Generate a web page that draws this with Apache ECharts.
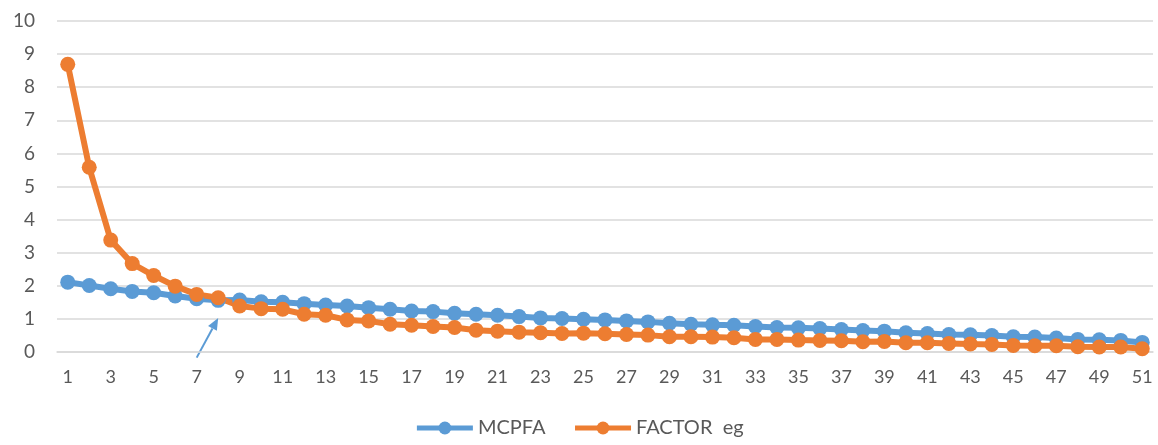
<!DOCTYPE html>
<html>
<head>
<meta charset="utf-8">
<script src="https://cdn.jsdelivr.net/npm/echarts@6/dist/echarts.min.js"></script>
<style>html,body{margin:0;padding:0;background:#fff;}#c{width:1158px;height:445px;}</style>
</head>
<body>
<div id="c"></div>
<script>
var categories = [];
for (var k = 1; k <= 51; k++) categories.push(String(k));
var seriesNames = ['MCPFA', 'FACTOR  eg'];
var mcpfa = [2.11,2.01,1.91,1.83,1.79,1.69,1.61,1.56,1.57,1.52,1.50,1.46,1.42,1.39,1.34,1.29,1.24,1.22,1.17,1.14,1.11,1.07,1.03,1.01,0.99,0.97,0.94,0.91,0.87,0.84,0.82,0.81,0.77,0.74,0.73,0.71,0.68,0.65,0.63,0.58,0.56,0.53,0.52,0.50,0.46,0.45,0.42,0.38,0.37,0.35,0.29];
var factorEg = [8.69,5.58,3.38,2.67,2.31,1.99,1.74,1.64,1.39,1.31,1.29,1.14,1.11,0.97,0.94,0.84,0.81,0.77,0.74,0.66,0.63,0.60,0.58,0.56,0.57,0.55,0.53,0.51,0.46,0.46,0.45,0.43,0.38,0.38,0.36,0.35,0.34,0.31,0.32,0.28,0.28,0.26,0.24,0.23,0.20,0.19,0.19,0.16,0.15,0.15,0.10];
var yTicks = {min: 0, max: 10, interval: 1};
// annotation arrow endpoints in data space: [category index, value]
var arrowFrom = [6, -0.17];
var arrowTo = [6.72, 1.03];

var font = 'Lato, "Open Sans", sans-serif';
var chart = echarts.init(document.getElementById('c'));
chart.setOption({
  animation: false,
  color: ['#5B9BD5', '#ED7D31'],
  grid: {left: 57, right: 5, top: 21, bottom: 93, containLabel: false},
  legend: {
    bottom: 2, left: 'center', itemWidth: 56, itemHeight: 16, itemGap: 27,
    lineStyle: {width: 5},
    textStyle: {color: '#595959', fontSize: 20, fontFamily: font},
    data: seriesNames
  },
  xAxis: {
    type: 'category', data: categories, boundaryGap: true,
    axisLine: {show: true, lineStyle: {color: '#D9D9D9', width: 1.5}},
    axisTick: {show: false},
    axisLabel: {interval: 1, color: '#595959', fontSize: 18, fontFamily: font, margin: 16}
  },
  yAxis: {
    type: 'value', min: yTicks.min, max: yTicks.max, interval: yTicks.interval,
    axisLine: {show: false}, axisTick: {show: false},
    splitLine: {lineStyle: {color: '#D9D9D9', width: 1.5}},
    axisLabel: {color: '#595959', fontSize: 19, fontFamily: font, margin: 22}
  },
  series: [
    {name: seriesNames[0], type: 'line', data: mcpfa, symbol: 'circle', symbolSize: 15, showAllSymbol: true,
     lineStyle: {width: 6}, itemStyle: {color: '#5B9BD5'}},
    {name: seriesNames[1], type: 'line', data: factorEg, symbol: 'circle', symbolSize: 15, showAllSymbol: true,
     lineStyle: {width: 6}, itemStyle: {color: '#ED7D31'}}
  ]
});
var p0 = chart.convertToPixel({gridIndex: 0}, arrowFrom);
var p1 = chart.convertToPixel({gridIndex: 0}, arrowTo);
var ang = Math.atan2(p1[1] - p0[1], p1[0] - p0[0]);
var hl = 12, hw = 5;
var bx = p1[0] - hl * Math.cos(ang), by = p1[1] - hl * Math.sin(ang);
var nx = -Math.sin(ang), ny = Math.cos(ang);
chart.setOption({
  graphic: [
    {type: 'line', shape: {x1: p0[0], y1: p0[1], x2: bx, y2: by}, style: {stroke: '#5B9BD5', lineWidth: 2}},
    {type: 'polygon', shape: {points: [[p1[0], p1[1]], [bx + nx * hw, by + ny * hw], [bx - nx * hw, by - ny * hw]]}, style: {fill: '#5B9BD5'}}
  ]
});
</script>
</body>
</html>
